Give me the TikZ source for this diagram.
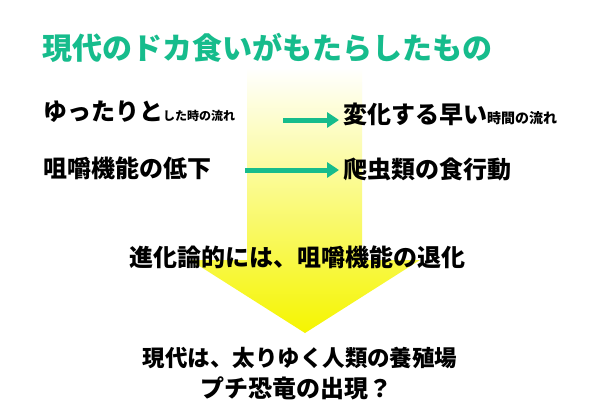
\documentclass[tikz,border=0pt]{standalone}
\usepackage{fontspec}
\setmainfont{Noto Sans CJK JP}
\usetikzlibrary{arrows.meta}
\definecolor{teal1}{RGB}{22,188,140}
\definecolor{yel}{RGB}{245,245,0}
\tikzset{
  txt/.style={inner sep=0pt, font=\bfseries, text=black},
  garrow/.style={draw=teal1, line width=5pt, -{Triangle[length=12pt,width=15pt]}},
}
\newcommand{\fs}[1]{\fontsize{#1}{#1}\selectfont}
\begin{document}
\begin{tikzpicture}[x=1pt,y=-1pt]
\useasboundingbox (0,0) rectangle (600,415);
\fill[white] (0,0) rectangle (600,415);
% big down arrow
\shade[top color=white, middle color=yel!20!white, bottom color=yel]
  (247,68) -- (362,68) -- (362,260) -- (420,260) -- (305,333) -- (190,260) -- (247,260) -- cycle;
% title
\node[txt, anchor=west, text=teal1] (title) at (42,48) {\fs{30}現代のドカ食いがもたらしたもの};
% rows
\node[txt, anchor=west] (l1) at (43,112) {{\fs{24}ゆったりと}{\fs{12}した時の流れ}};
\node[txt, anchor=west] (r1) at (343,114) {{\fs{24}変化する早い}{\fs{14}時間の流れ}};
\node[txt, anchor=west] (l2) at (43,168) {\fs{24}咀嚼機能の低下};
\node[txt, anchor=west] (r2) at (343,169) {\fs{24}爬虫類の食行動};
\coordinate (a1s) at (283,120);
\coordinate (a1e) at (339,120);
\coordinate (a2s) at (245,170);
\coordinate (a2e) at (339,170);
\draw[garrow] (a1s) -- (a1e);
\draw[garrow] (a2s) -- (a2e);
% middle and bottom
\node[txt] (mid) at (297,257) {\fs{24}進化論的には、咀嚼機能の退化};
\node[txt] (b1) at (300,358) {\fs{22.5}現代は、太りゆく人類の養殖場};
\node[txt] (b2) at (296,388) {\fs{24}プチ恐竜の出現？};
\end{tikzpicture}
\end{document}
